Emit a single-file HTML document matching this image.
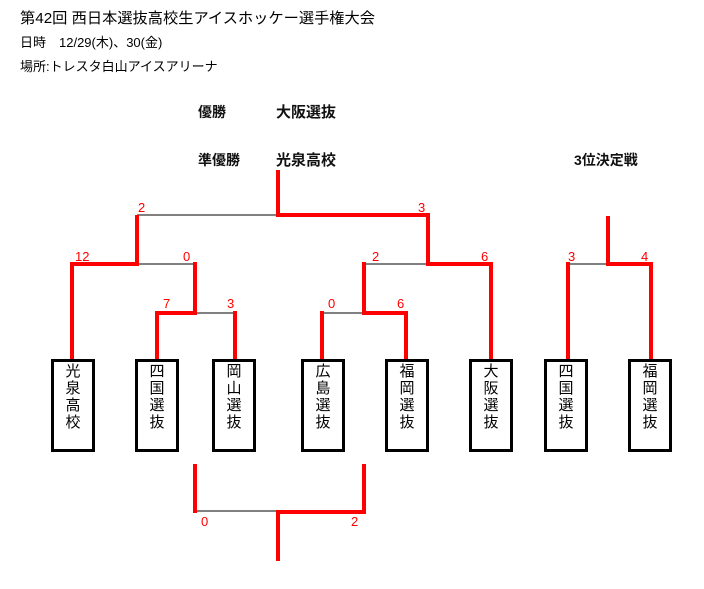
<!DOCTYPE html>
<html><head><meta charset="utf-8"><style>
body{margin:0;background:#fff;}
svg text{font-family:"Liberation Sans","Noto Sans CJK JP",sans-serif;}
</style></head><body>
<svg width="704" height="584" xmlns="http://www.w3.org/2000/svg">
<g font-size="15" fill="#000">
<text x="20" y="23" textLength="355" lengthAdjust="spacingAndGlyphs">第42回 西日本選抜高校生アイスホッケー選手権大会</text>
<text x="20" y="47" font-size="13">日時　12/29(木)、30(金)</text>
<text x="20" y="71" font-size="13">場所:トレスタ白山アイスアリーナ</text>
</g>
<g font-size="14" font-weight="bold" fill="#111">
<text x="198" y="117">優勝</text>
<text x="276" y="117" font-size="15">大阪選抜</text>
<text x="198" y="165">準優勝</text>
<text x="276" y="165" font-size="15">光泉高校</text>
<text x="574" y="165">3位決定戦</text>
</g>
<g stroke="#000" stroke-width="1">
<line x1="137" y1="215" x2="278" y2="215"/>
<line x1="137" y1="264" x2="195" y2="264"/>
<line x1="195" y1="313" x2="235" y2="313"/>
<line x1="322" y1="313" x2="364" y2="313"/>
<line x1="364" y1="264" x2="428" y2="264"/>
<line x1="568" y1="264" x2="608" y2="264"/>
<line x1="195" y1="511" x2="278" y2="511"/>
</g>
<g stroke="#f00" stroke-width="4" fill="none" stroke-linecap="square">
<polyline points="278,172 278,215 428,215 428,264 491,264 491,360"/>
<polyline points="137,217 137,264 72,264 72,360"/>
<polyline points="195,264 195,313 157,313 157,360"/>
<line x1="235" y1="313" x2="235" y2="360"/>
<line x1="322" y1="313" x2="322" y2="360"/>
<polyline points="364,264 364,313 406,313 406,360"/>
<polyline points="608,218 608,264 651,264 651,360"/>
<line x1="568" y1="264" x2="568" y2="360"/>
<polyline points="195,466 195,511"/>
<polyline points="364,466 364,512 278,512 278,559"/>
</g>
<g fill="#f00" font-size="13">
<text x="138" y="212">2</text>
<text x="418" y="212">3</text>
<text x="75" y="261">12</text>
<text x="183" y="261">0</text>
<text x="372" y="261">2</text>
<text x="481" y="261">6</text>
<text x="568" y="261">3</text>
<text x="641" y="261">4</text>
<text x="163" y="308">7</text>
<text x="227" y="308">3</text>
<text x="328" y="308">0</text>
<text x="397" y="308">6</text>
<text x="201" y="526">0</text>
<text x="351" y="526">2</text>
</g>
<g fill="#fff" stroke="#000" stroke-width="3">
<rect x="52.5" y="360.5" width="41" height="90"/>
<rect x="136.5" y="360.5" width="41" height="90"/>
<rect x="213.5" y="360.5" width="41" height="90"/>
<rect x="302.5" y="360.5" width="41" height="90"/>
<rect x="386.5" y="360.5" width="41" height="90"/>
<rect x="470.5" y="360.5" width="41" height="90"/>
<rect x="545.5" y="360.5" width="41" height="90"/>
<rect x="629.5" y="360.5" width="41" height="90"/>
</g>
<g font-size="15" fill="#000" text-anchor="middle">
<text x="73" y="376">光</text><text x="73" y="393">泉</text><text x="73" y="410">高</text><text x="73" y="427">校</text>
<text x="157" y="376">四</text><text x="157" y="393">国</text><text x="157" y="410">選</text><text x="157" y="427">抜</text>
<text x="234" y="376">岡</text><text x="234" y="393">山</text><text x="234" y="410">選</text><text x="234" y="427">抜</text>
<text x="323" y="376">広</text><text x="323" y="393">島</text><text x="323" y="410">選</text><text x="323" y="427">抜</text>
<text x="407" y="376">福</text><text x="407" y="393">岡</text><text x="407" y="410">選</text><text x="407" y="427">抜</text>
<text x="491" y="376">大</text><text x="491" y="393">阪</text><text x="491" y="410">選</text><text x="491" y="427">抜</text>
<text x="566" y="376">四</text><text x="566" y="393">国</text><text x="566" y="410">選</text><text x="566" y="427">抜</text>
<text x="650" y="376">福</text><text x="650" y="393">岡</text><text x="650" y="410">選</text><text x="650" y="427">抜</text>
</g>
</svg>
</body></html>
